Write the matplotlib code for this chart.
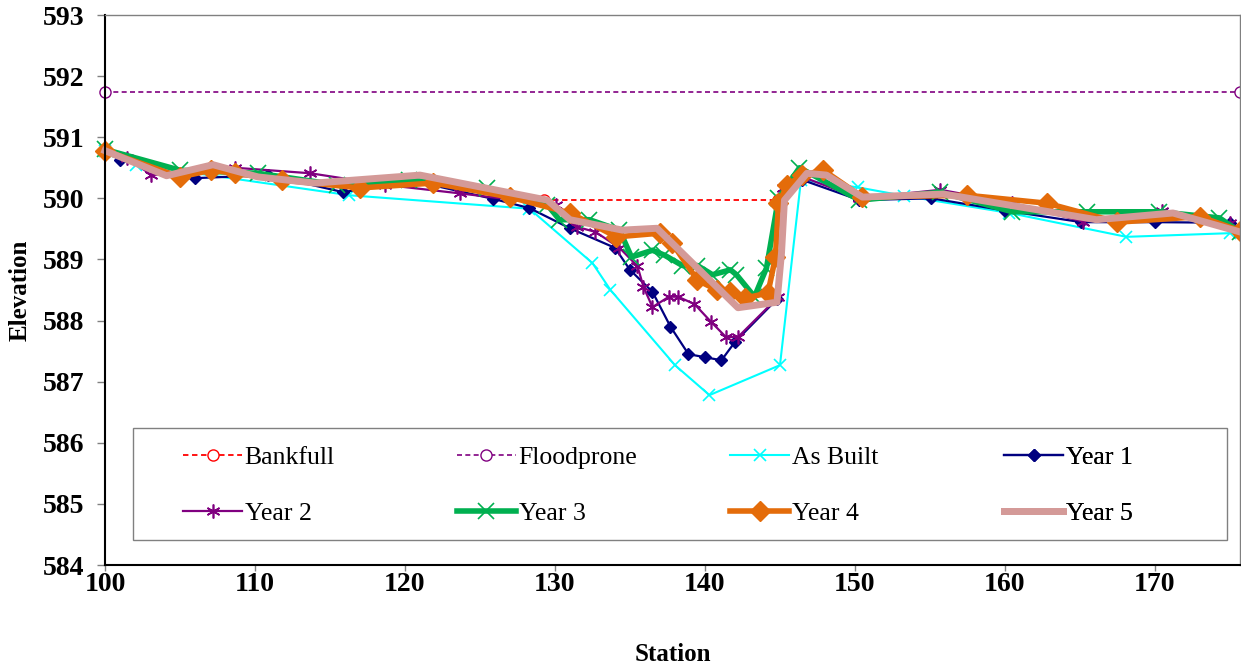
import matplotlib
matplotlib.use("Agg")
import matplotlib.pyplot as plt
from matplotlib.patches import Rectangle

plt.rcParams["font.family"] = ["Liberation Serif", "DejaVu Serif"]

# ── data ─────────────────────────────────────────────────────────────
bankfull_x = [129.3, 144.9]
bankfull_y = [589.97, 589.97]

floodprone_x = [100.0, 175.67]
floodprone_y = [591.74, 591.74]

asbuilt_x = [100.0, 102.1, 116.3, 128.3, 132.5, 133.7, 138.0, 140.3, 145.0,
             146.4, 150.2, 153.3, 160.3, 168.1, 175.0, 175.67]
asbuilt_y = [590.77, 590.55, 590.05, 589.83, 588.94, 588.50, 587.27, 586.78, 587.27,
             590.30, 590.18, 590.04, 589.76, 589.37, 589.43, 589.45]

year1_x = [100.0, 101.0, 106.0, 110.9, 115.9, 120.3, 125.9, 128.3, 131.0, 134.0,
           135.0, 136.5, 137.7, 138.9, 140.0, 141.1, 142.0, 144.8, 145.4, 146.5,
           150.3, 155.1, 160.0, 165.1, 170.0, 175.0, 175.67]
year1_y = [590.77, 590.63, 590.33, 590.38, 590.10, 590.30, 589.99, 589.84, 589.51, 589.19,
           588.83, 588.47, 587.90, 587.45, 587.40, 587.35, 587.65, 588.35, 590.10, 590.30,
           589.97, 590.00, 589.80, 589.61, 589.61, 589.60, 589.50]

year2_x = [100.0, 101.5, 103.1, 108.7, 113.7, 118.7, 123.7, 130.1, 131.5, 132.7,
           134.3, 135.5, 135.9, 136.5, 137.6, 138.2, 139.3, 140.4, 141.4, 142.2,
           144.9, 145.2, 146.5, 150.3, 155.7, 160.5, 165.2, 170.5, 175.0, 175.67]
year2_y = [590.77, 590.66, 590.38, 590.50, 590.41, 590.22, 590.08, 589.89, 589.53, 589.45,
           589.19, 588.89, 588.55, 588.22, 588.39, 588.39, 588.27, 587.98, 587.73, 587.73,
           588.39, 590.17, 590.35, 590.00, 590.14, 589.92, 589.62, 589.79, 589.60, 589.50]

year3_x = [100.0, 105.0, 110.2, 115.5, 120.3, 125.5, 129.5, 130.3, 132.3, 134.3,
           135.1, 136.5, 137.3, 138.5, 139.5, 140.5, 141.7, 142.1, 143.3, 144.1,
           144.9, 146.3, 150.3, 155.7, 160.5, 165.5, 170.3, 174.3, 175.67]
year3_y = [590.80, 590.46, 590.41, 590.22, 590.30, 590.17, 589.89, 589.65, 589.65, 589.48,
           589.04, 589.15, 589.07, 588.90, 588.90, 588.75, 588.83, 588.75, 588.39, 588.86,
           590.00, 590.50, 589.97, 590.10, 589.78, 589.78, 589.78, 589.68, 589.45]

year4_x = [100.0, 105.0, 107.1, 108.7, 111.8, 117.0, 121.9, 127.0, 131.0, 134.1,
           137.0, 137.8, 139.5, 140.8, 141.7, 142.7, 144.2, 144.7, 144.9, 145.5,
           146.5, 147.9, 150.5, 157.5, 162.8, 167.5, 173.0, 175.67]
year4_y = [590.78, 590.35, 590.46, 590.41, 590.30, 590.17, 590.25, 590.02, 589.76, 589.37,
           589.43, 589.27, 588.66, 588.50, 588.47, 588.37, 588.45, 589.04, 589.92, 590.22,
           590.38, 590.46, 590.02, 590.05, 589.92, 589.61, 589.70, 589.47]

year5_x = [100.0, 104.1, 107.2, 110.2, 114.0, 121.0, 129.5, 131.0, 134.5, 136.8,
           142.2, 144.8, 145.1, 145.3, 146.8, 148.1, 150.5, 155.9, 166.1, 171.2, 175.67]
year5_y = [590.78, 590.37, 590.55, 590.35, 590.25, 590.38, 589.97, 589.65, 589.48, 589.51,
           588.21, 588.30, 589.10, 589.97, 590.41, 590.38, 590.02, 590.07, 589.65, 589.76, 589.45]

fig = plt.figure(figsize=(12.41, 6.65), dpi=100)
ax = fig.add_axes([105 / 1241, 1 - 565 / 665, 1135 / 1241, 550 / 665])

h_bf, = ax.plot(bankfull_x, bankfull_y, color="#FF0000", ls=(0, (3, 2)), lw=1.3,
                marker="o", mfc="white", mec="#FF0000", ms=8, mew=1.0, label="Bankfull")
h_fp, = ax.plot(floodprone_x, floodprone_y, color="#800080", ls=(0, (3, 2)), lw=1.2,
                marker="o", mfc="white", mec="#800080", ms=8, mew=1.0, label="Floodprone")
h_ab, = ax.plot(asbuilt_x, asbuilt_y, color="#00FFFF", lw=1.5, marker="x",
                ms=9, mew=1.2, label="As Built")
h_y1, = ax.plot(year1_x, year1_y, color="#000080", lw=1.6, marker="D",
                ms=6, label="Year 1")
h_y2, = ax.plot(year2_x, year2_y, color="#800080", lw=1.6, marker=(6, 2, 0),
                ms=10, mew=1.2, label="Year 2")
h_y3, = ax.plot(year3_x, year3_y, color="#00B050", lw=4, marker="x",
                ms=11, mew=1.2, label="Year 3")
h_y4, = ax.plot(year4_x, year4_y, color="#E46C0A", lw=4, marker="D",
                ms=10, label="Year 4")
h_y5, = ax.plot(year5_x, year5_y, color="#D49A98", lw=5, label="Year 5")

for ln in ax.get_lines():
    ln.set_clip_on(False)

ax.set_xlim(100, 175.67)
ax.set_ylim(584, 593)
ax.set_xticks(range(100, 171, 10))
ax.set_yticks(range(584, 594))

for s in ["left", "bottom"]:
    ax.spines[s].set_color("black")
    ax.spines[s].set_linewidth(1.5)
for s in ["top", "right"]:
    ax.spines[s].set_color("#808080")
    ax.spines[s].set_linewidth(1.0)

ax.tick_params(axis="y", direction="out", length=6, width=1, color="#808080",
               labelsize=20, pad=9)
ax.tick_params(axis="x", direction="out", length=4, width=1, color="#808080",
               labelsize=20, pad=1)
for lbl in ax.get_xticklabels() + ax.get_yticklabels():
    lbl.set_fontweight("bold")

ax.set_ylabel("Elevation", fontsize=18, fontweight="bold", labelpad=8)
ax.set_xlabel("Station", fontsize=18, fontweight="bold", labelpad=33)

# legend frame + one legend per column so columns are evenly spaced
ax.add_patch(Rectangle((0.0247, 0.0455), 0.9638, 0.2035, transform=ax.transAxes,
                       fill=False, edgecolor="#808080", lw=1.0, zorder=5))
cols = [(h_bf, h_y2), (h_fp, h_y3), (h_ab, h_y4), (h_y1, h_y5)]
col_x = [0.0687, 0.310, 0.551, 0.7921]
for (ha, hb), cx in zip(cols, col_x):
    leg = ax.legend([ha, hb], [ha.get_label(), hb.get_label()],
                    loc="center left", bbox_to_anchor=(cx, 0.1445),
                    frameon=False, fontsize=18.5, handlelength=2.3,
                    handletextpad=0.1, labelspacing=1.3, borderpad=0,
                    borderaxespad=0, numpoints=1)
    ax.add_artist(leg)

fig.savefig("out.png", dpi=100)
